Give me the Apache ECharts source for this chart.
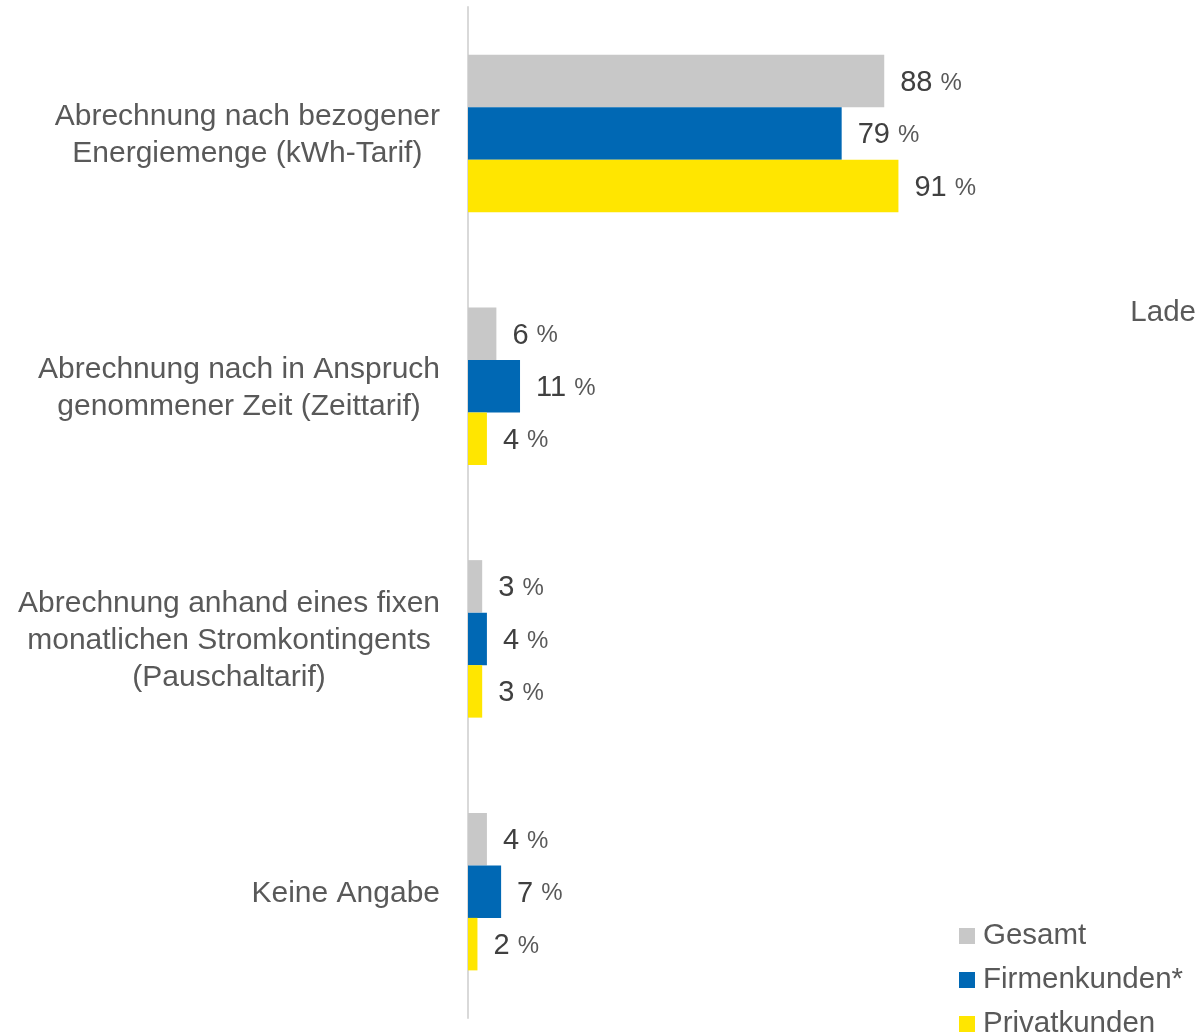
<!DOCTYPE html>
<html>
<head>
<meta charset="utf-8">
<script src="https://cdn.jsdelivr.net/npm/echarts@6/dist/echarts.min.js"></script>
<style>
  html, body { margin: 0; padding: 0; background: #fff; }
  #chart { width: 1196px; height: 1035px; }
</style>
</head>
<body>
<div id="chart"></div>
<script>
// Kategorien (von oben nach unten)
const categories = [
  'Abrechnung nach bezogener\nEnergiemenge (kWh-Tarif)',
  'Abrechnung nach in Anspruch\ngenommener Zeit (Zeittarif)',
  'Abrechnung anhand eines fixen\nmonatlichen Stromkontingents\n(Pauschaltarif)',
  'Keine Angabe'
]
// Werte in Prozent
const gesamt = [88, 6, 3, 4]
const firmenkunden = [79, 11, 4, 7]
const privatkunden = [91, 4, 3, 2]
const seriesNames = ['Gesamt', 'Firmenkunden*', 'Privatkunden']
const colors = ['#c8c8c8', '#0068b4', '#ffe600']

const font = '"Liberation Sans", Arial, sans-serif'
const myChart = echarts.init(document.getElementById('chart'))

// Wertelabel: Zahl groß, Prozentzeichen etwas kleiner
const valueLabel = {
  show: true,
  position: 'right',
  distance: 16,
  offset: [0, 2],
  formatter: p => '{n|' + p.value + ' }{p|%}',
  rich: {
    n: { fontSize: 29, color: '#404040', fontFamily: font },
    p: { fontSize: 24, color: '#595959', fontFamily: font }
  }
}

const makeSeries = (name, data, color) => ({
  name: name,
  type: 'bar',
  data: data,
  barWidth: 52.5,
  barGap: '0%',
  itemStyle: { color: color },
  label: valueLabel
})

const option = {
  animation: false,
  textStyle: { fontFamily: font },
  grid: { left: 468, right: 255, top: 7, bottom: 17 },
  xAxis: {
    type: 'value',
    min: 0,
    max: 100,
    show: false
  },
  yAxis: {
    type: 'category',
    inverse: true,
    data: categories,
    axisTick: { show: false },
    axisLine: { lineStyle: { color: '#d9d9d9', width: 2 } },
    axisLabel: {
      margin: 28,
      padding: [4, 0, 0, 0],
      formatter: v => v.split('\n').map(s => '{c|' + s + '}').join('\n'),
      rich: {
        c: { align: 'center', fontSize: 30, lineHeight: 37, color: '#595959', fontFamily: font }
      }
    }
  },
  legend: {
    orient: 'vertical',
    left: 959,
    top: 921,
    height: 160,
    padding: 0,
    icon: 'rect',
    itemWidth: 16,
    itemHeight: 16,
    itemGap: 14,
    textStyle: { fontSize: 29.5, lineHeight: 30, color: '#595959', padding: [0, 0, 0, 3] },
    data: seriesNames
  },
  graphic: [{
    type: 'text',
    right: 0,
    top: 298,
    style: { text: 'Lade', fontSize: 29.5, fill: '#595959', fontFamily: font }
  }],
  series: [
    makeSeries(seriesNames[0], gesamt, colors[0]),
    makeSeries(seriesNames[1], firmenkunden, colors[1]),
    makeSeries(seriesNames[2], privatkunden, colors[2])
  ]
}

myChart.setOption(option)
</script>
</body>
</html>
